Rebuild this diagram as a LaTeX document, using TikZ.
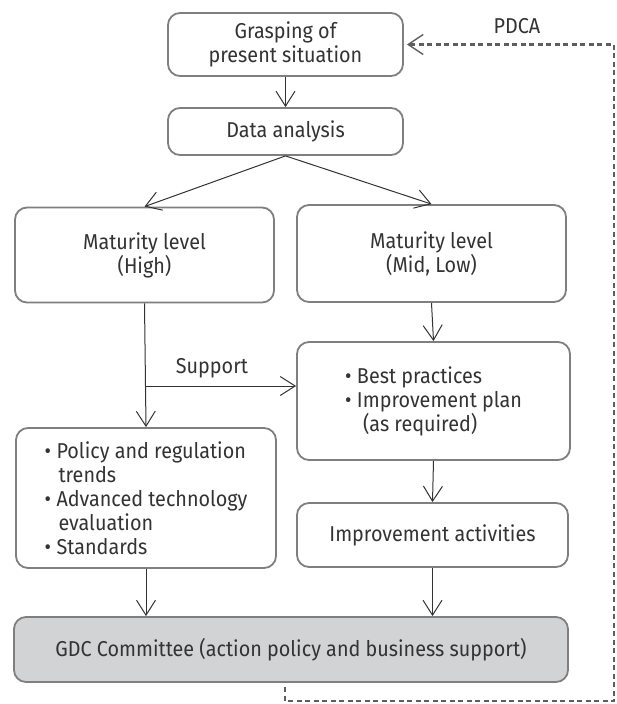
\documentclass[tikz,border=0pt]{standalone}
\usepackage{fontspec}
\setmainfont[FakeStretch=0.92]{Fira Sans}
\usetikzlibrary{arrows.meta}
\definecolor{boxline}{HTML}{7F7F80}
\definecolor{inkc}{HTML}{333333}
\definecolor{loopc}{HTML}{5E5E60}
\definecolor{gdcfill}{HTML}{D2D3D5}
\newcommand{\bul}{\makebox[12pt][l]{•}}
\newcommand{\ind}[1][14pt]{\hspace*{#1}}
\begin{document}
\begin{tikzpicture}[x=1pt,y=-1pt,
  every node/.style={text=inkc, font=\fontsize{21.5}{24}\selectfont},
  flowbox/.style={draw=boxline, line width=1.8pt, rounded corners=12pt,
    fill=white, inner sep=0pt, align=center},
  listbox/.style={flowbox, align=left},
  flow/.style={draw=inkc, line width=1pt,
    -{Straight Barb[length=15pt,width=19pt,line width=1pt]}},
  cycle/.style={draw=loopc, line width=2.2pt, dash pattern=on 5pt off 3.5pt,
    -{Straight Barb[length=15pt,width=20pt,line width=1.4pt]}}]
  % page area
  \fill[white] (0,0) rectangle (617,704);
  \useasboundingbox (0,0) rectangle (617,704);

  % boxes
  \node[flowbox, minimum width=235pt, minimum height=63pt] (grasp) at (285.5,44.5)
    {Grasping of\\present situation};
  \node[flowbox, minimum width=235pt, minimum height=47pt] (data) at (285.5,131.5)
    {Data analysis};
  \node[flowbox, minimum width=259pt, minimum height=95pt] (high) at (144.5,255)
    {Maturity level\\(High)};
  \node[flowbox, minimum width=269pt, minimum height=97pt] (mid) at (431.5,253.5)
    {Maturity level\\(Mid, Low)};
  \node[listbox, minimum width=273pt, minimum height=118pt] (best) at (433.5,401)
    {\bul Best practices\\\bul Improvement plan\\\ind[18pt](as required)};
  \node[listbox, minimum width=260pt, minimum height=140pt] (policy) at (146,498)
    {\bul Policy and regulation\\\ind trends\\\bul Advanced technology\\\ind evaluation\\\bul Standards};
  \node[flowbox, minimum width=271pt, minimum height=64pt] (impr) at (432.5,535)
    {Improvement activities};
  \node[flowbox, fill=gdcfill, minimum width=554pt, minimum height=65pt] (gdc) at (291,649.5)
    {GDC Committee (action policy and business support)};

  % labels
  \node (supportlbl) at (212,368) {Support};
  \node (pdca) at (517,26) {PDCA};

  % flow connectors
  \draw[flow] (grasp.south) -- (data.north);
  \draw[flow] (data.south) -- (high.north);
  \draw[flow] (data.south) -- (mid.north);
  \draw[flow] (high.south) -- (policy.north);
  \coordinate (branch) at (146,386);
  \draw[flow] (branch) -- (branch -| best.west);
  \draw[flow] (mid.south) -- (best.north);
  \draw[flow] (best.south) -- (impr.north);
  \draw[flow] (policy.south) -- (policy.south |- gdc.north);
  \draw[flow] (impr.south) -- (impr.south |- gdc.north);

  % PDCA feedback loop
  \coordinate (loopa) at (285,687);
  \coordinate (loopb) at (285,701);
  \coordinate (loopc) at (614,701);
  \coordinate (loopd) at (614,44.5);
  \draw[cycle] (loopa) -- (loopb) -- (loopc) -- (loopd) -- ([xshift=3pt]grasp.east);
\end{tikzpicture}
\end{document}
